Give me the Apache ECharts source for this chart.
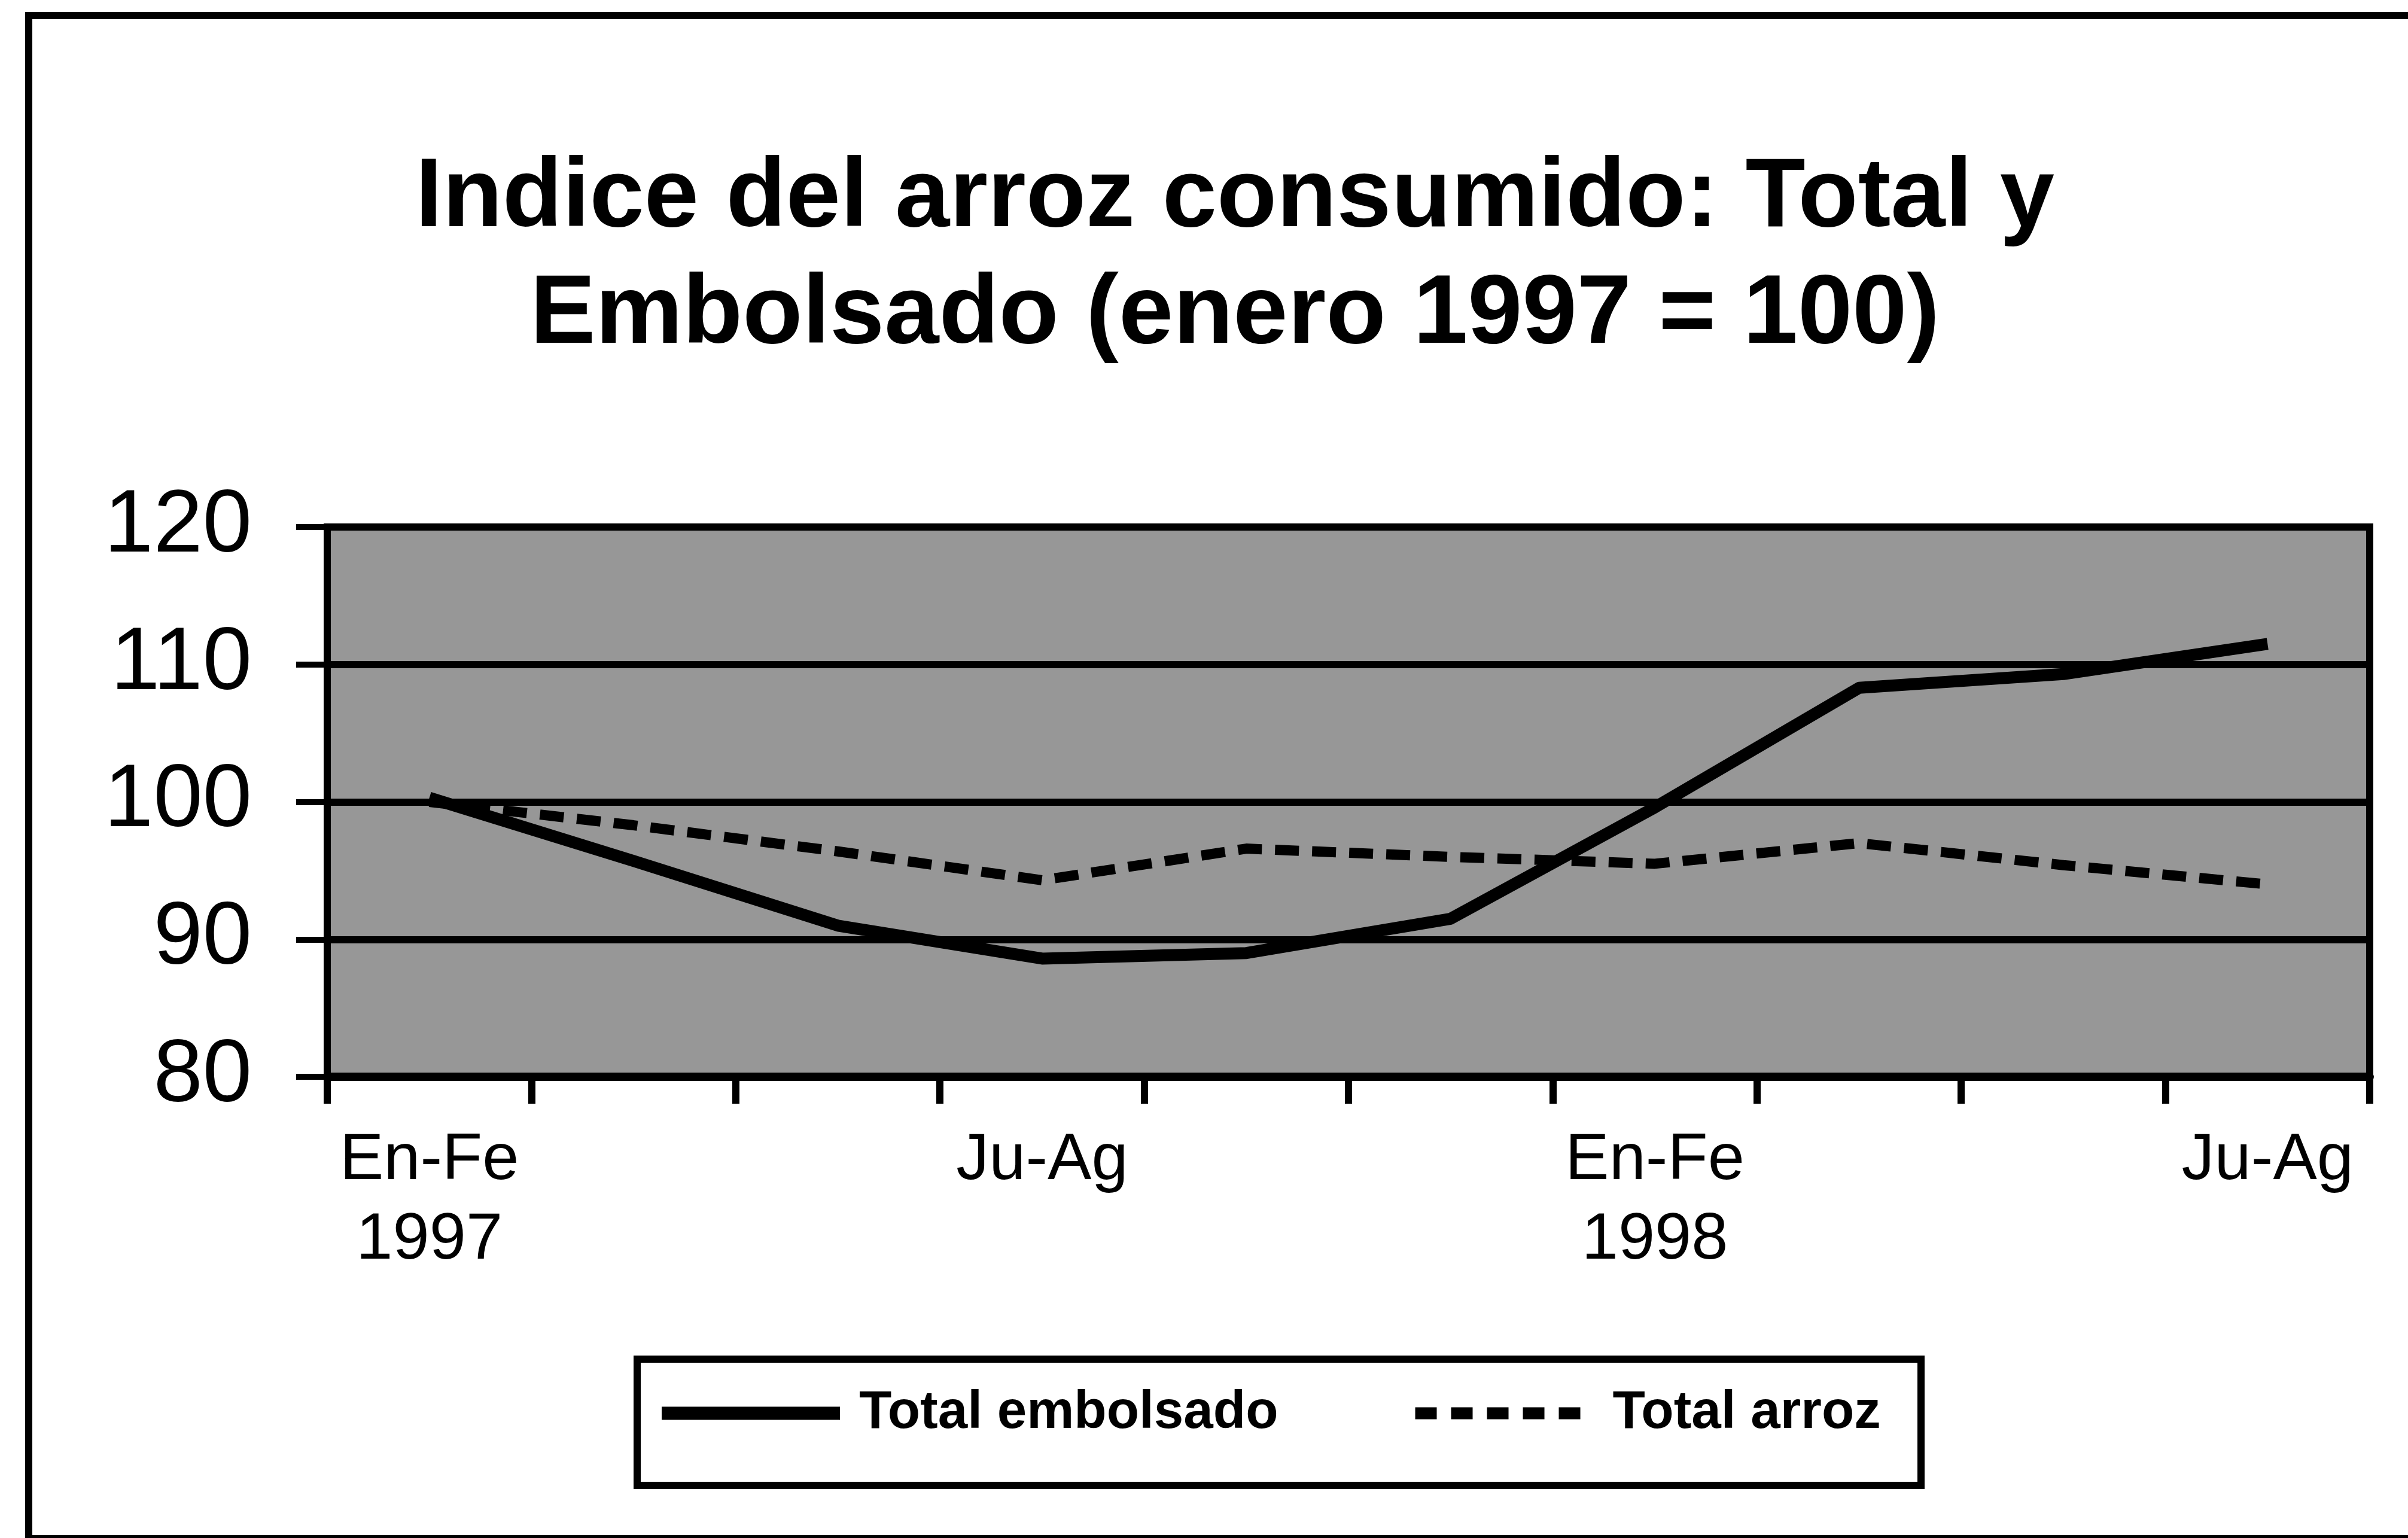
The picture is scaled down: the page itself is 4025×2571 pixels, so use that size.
<!DOCTYPE html>
<html>
<head>
<meta charset="utf-8">
<script src="https://cdn.jsdelivr.net/npm/echarts@6/dist/echarts.min.js"></script>
<style>
html,body{margin:0;padding:0;background:#fff;}
#c{width:4025px;height:2571px;}
</style>
</head>
<body>
<div id="c"></div>
<script>
const categories = ['En-Fe\n1997','Mr-Ab','My-Jn','Ju-Ag','Se-Oc','No-Di','En-Fe\n1998','Mr-Ab','My-Jn','Ju-Ag'];
const totalEmbolsado = [100.3, 95.7, 91.0, 88.6, 89.0, 91.5, 99.6, 108.3, 109.3, 111.5];
const totalArroz = [100.0, 98.3, 96.4, 94.3, 96.6, 96.0, 95.5, 97.0, 95.4, 94.0];
const yTicks = [80, 90, 100, 110, 120];
const seriesNames = ['Total embolsado', 'Total arroz'];
const titleText = 'Indice del arroz consumido: Total y\nEmbolsado (enero 1997 = 100)';

const chart = echarts.init(document.getElementById('c'), null, {renderer:'canvas'});
const font = "'Liberation Sans', Arial, Helvetica, sans-serif";

chart.setOption({
  backgroundColor: '#ffffff',
  animation: false,
  title: {
    text: titleText,
    left: 2064,
    textAlign: 'center',
    top: 235,
    padding: 0,
    textStyle: {fontFamily: font, fontWeight: 'bold', fontSize: 164, lineHeight: 195, color: '#000'}
  },
  grid: {
    left: 547, top: 881, width: 3414, height: 919,
    outerBoundsMode: 'none',
    show: true, backgroundColor: '#979797', borderColor: '#000', borderWidth: 12
  },
  xAxis: {
    type: 'category',
    data: categories,
    boundaryGap: true,
    axisLine: {show: true, lineStyle: {color: '#000', width: 14}},
    axisTick: {show: true, interval: 0, length: 45, lineStyle: {color: '#000', width: 12}},
    axisLabel: {interval: 2, margin: 74, fontFamily: font, fontSize: 110, lineHeight: 133, color: '#000'},
    splitLine: {show: false}
  },
  yAxis: {
    type: 'value',
    min: yTicks[0], max: yTicks[yTicks.length - 1], interval: 10,
    axisLine: {show: true, lineStyle: {color: '#000', width: 12}},
    axisTick: {show: true, length: 52, lineStyle: {color: '#000', width: 10}},
    axisLabel: {margin: 126, fontFamily: font, fontSize: 148, color: '#000'},
    splitLine: {show: true, lineStyle: {color: '#000', width: 12}}
  },
  legend: {
    left: 1095, top: 2318, padding: 0,
    itemWidth: 298, itemHeight: 24, itemGap: 219,
    textStyle: {fontFamily: font, fontWeight: 'bold', fontSize: 89, color: '#000', padding: [0, 0, 0, 27]},
    data: [
      {name: seriesNames[0], itemStyle: {opacity: 0}, lineStyle: {width: 22, type: 'solid', color: '#000'}},
      {name: seriesNames[1], itemStyle: {opacity: 0}, lineStyle: {width: 20, type: [36, 24], color: '#000'}}
    ]
  },
  series: [
    {name: seriesNames[0], type: 'line', data: totalEmbolsado, symbol: 'none', smooth: false,
     itemStyle: {color: '#000'},
     lineStyle: {color: '#000', width: 20, join: 'round'}, z: 3},
    {name: seriesNames[1], type: 'line', data: totalArroz, symbol: 'none', smooth: false,
     itemStyle: {color: '#000'},
     lineStyle: {color: '#000', width: 17, type: [40, 22], cap: 'butt'}, z: 4}
  ],
  graphic: [
    {type: 'rect', shape: {x: 42, y: 20, width: 3983, height: 12}, style: {fill: '#000'}},
    {type: 'rect', shape: {x: 42, y: 20, width: 12, height: 2551}, style: {fill: '#000'}},
    {type: 'rect', shape: {x: 42, y: 2566, width: 3983, height: 5}, style: {fill: '#000'}},
    {type: 'rect', shape: {x: 1065, y: 2272, width: 2146, height: 211}, style: {fill: 'none', stroke: '#000', lineWidth: 12}}
  ]
});
</script>
</body>
</html>
